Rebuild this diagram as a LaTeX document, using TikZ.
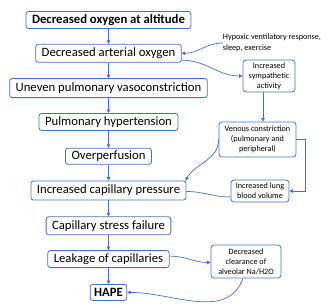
\documentclass[tikz,border=0pt]{standalone}
\usepackage{fontspec}
\setmainfont{Carlito}
\usetikzlibrary{arrows.meta, positioning, calc}
\definecolor{hpblue}{RGB}{68,114,196}

\begin{document}
\begin{tikzpicture}[x=1pt, y=-1pt,
  mainbox/.style={rectangle, rounded corners=2.5pt, draw=hpblue, line width=0.8pt, minimum height=18pt, inner xsep=6pt, inner ysep=1pt, font=\fontsize{12.7}{14}\selectfont},
  sidebox/.style={rectangle, rounded corners=3pt, draw=hpblue, line width=0.8pt, align=center, inner sep=2pt, font=\fontsize{8.2}{10}\selectfont},
  arr/.style={-{Triangle[length=3.5pt, width=3.5pt]}, draw=hpblue, line width=0.7pt}
]
\useasboundingbox (0,0) rectangle (330,308);
% main column
\node[mainbox, font=\fontsize{12.7}{14}\selectfont\bfseries, minimum height=17pt] (alt) at (108.5,20) {Decreased oxygen at altitude};
\node[mainbox, below=15pt of alt] (art) {Decreased arterial oxygen};
\node[mainbox, below=15.5pt of art, minimum height=19pt] (uneven) {Uneven pulmonary vasoconstriction};
\node[mainbox, below=15pt of uneven, minimum height=17pt] (pht) {Pulmonary hypertension};
\node[mainbox, below=17pt of pht, minimum height=16pt] (overp) {Overperfusion};
\node[mainbox, below=16pt of overp, minimum height=19pt] (capp) {Increased capillary pressure};
\node[mainbox, below=16pt of capp] (csf) {Capillary stress failure};
\node[mainbox, below=15pt of csf, minimum height=17pt] (leak) {Leakage of capillaries};
\node[mainbox, below=16pt of leak, minimum height=16pt, inner xsep=4pt, font=\fontsize{12.7}{14}\selectfont\bfseries] (hape) {HAPE};
% side nodes
\node[align=left, inner sep=0pt, font=\fontsize{8.2}{11.5}\selectfont] (hyp) at (272,43) {Hypoxic ventilatory response,\\sleep, exercise};
\node[sidebox, minimum width=52pt, minimum height=32pt] (symp) at (269,76) {Increased\\sympathetic\\activity};
\node[sidebox, minimum width=77pt, minimum height=35pt] (ven) at (257.5,139.5) {Venous constriction\\(pulmonary and\\peripheral)};
\node[sidebox, minimum width=58pt, minimum height=22pt] (lung) at (260,191) {Increased lung\\blood volume};
\node[sidebox, minimum width=70pt, minimum height=33pt] (clear) at (246,261.5) {Decreased\\clearance of\\alveolar Na/H2O};
% main arrows
\foreach \a/\b in {alt/art, art/uneven, uneven/pht, pht/overp, overp/capp, capp/csf, csf/leak, leak/hape}
  \draw[arr] (\a.south) -- (\a.south |- \b.north);
% side arrows
\draw[arr] (hyp.west) to[out=180, in=0] (art.east);
\draw[arr] ([yshift=2.5pt]art.south east) to[out=0, in=180] (symp.west);
\draw[arr] ([xshift=-6pt]symp.south) -- ([xshift=-6pt]symp.south |- ven.north);
\draw[arr] (ven.east) -- ++(9,0) |- (lung.east);
\draw[arr] (ven.west) to[out=-90, in=60] ([xshift=-1pt]capp.north east);
\draw[draw=hpblue, line width=0.7pt] ([yshift=-1pt]capp.east) to[out=0, in=180] ([yshift=-6pt]lung.west);
\draw[arr] ([yshift=3pt]leak.east) to[out=0, in=180] ([yshift=-1pt]clear.west);
\draw[arr] ([xshift=-3pt]clear.south) to[out=-110, in=0] (hape.east);
\end{tikzpicture}
\end{document}
